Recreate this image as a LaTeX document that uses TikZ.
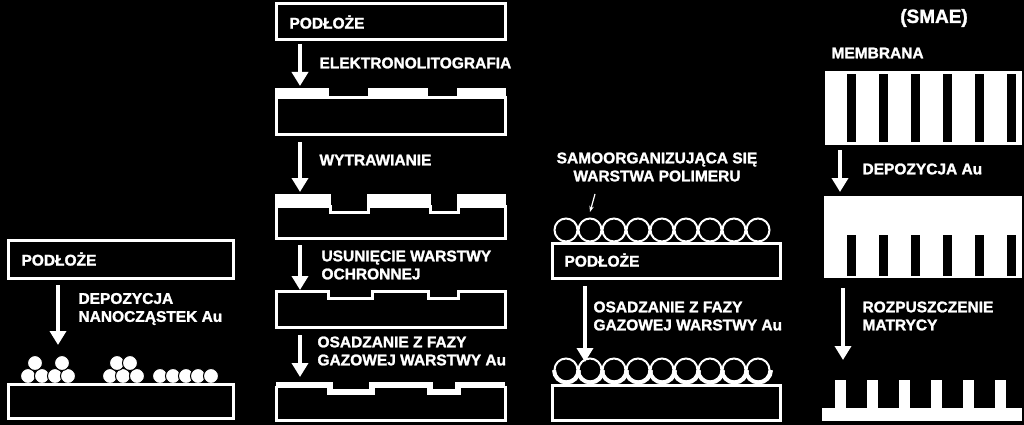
\documentclass[tikz,border=0pt]{standalone}
\usepackage{fontspec}
\setmainfont{Liberation Sans}[BoldFeatures={FakeBold=1.6}]
\usetikzlibrary{arrows.meta, positioning}

\begin{document}
\begin{tikzpicture}[x=1pt, y=-1pt, line width=3pt, white]
    \tikzset{
        lbl/.style = {anchor=west, align=left, inner sep=0pt, font=\fontsize{15.5}{18}\selectfont\bfseries},
        step arrow/.style = {line width=4pt, -{Triangle[width=16pt,length=14pt]}},
        layer/.style = {draw=white, line width=3pt},
        dot/.style = {fill=white, draw=black, line width=1pt}
    }
    \fill[black] (0,0) rectangle (1024,425);
    \useasboundingbox (0,0) rectangle (1024,425);

    % column 1: nanoparticles
    \draw[layer] (8,240) rectangle (233,278);
    \node[lbl] (sub1) at (20,259) {PODŁOŻE};
    \coordinate (a1s) at (58,285); \coordinate (a1e) at (58,345);
    \draw[step arrow] (a1s) -- (a1e);
    \node[lbl] (dep1) at (77,309) {DEPOZYCJA\\NANOCZĄSTEK Au};
    \foreach \x in {28,42,55,68,110,123,137,160,173,186,198,211}
        \draw[dot] (\x,376) circle (7.5);
    \foreach \x in {35,62,117,130}
        \draw[dot] (\x,363) circle (7.5);
    \draw[layer] (8,384) rectangle (233,418);

    % column 2: lithography
    \draw[layer] (276,4) rectangle (505,40);
    \node[lbl] (sub2) at (288,22) {PODŁOŻE};
    \coordinate (a2s) at (300,44); \coordinate (a2e) at (300,86);
    \draw[step arrow] (a2s) -- (a2e);
    \node[lbl] (lito) at (318,63) {ELEKTRONOLITOGRAFIA};
    \draw[layer] (276,98) rectangle (505,134);
    \foreach \a/\b in {275/329,368/428,457/506}
        \fill (\a,88) rectangle (\b,98);
    \coordinate (a3s) at (300,142); \coordinate (a3e) at (300,192);
    \draw[step arrow] (a3s) -- (a3e);
    \node[lbl] (etch) at (318,160) {WYTRAWIANIE};
    \draw[layer] (276,206) -- (330,206) -- (330,212) -- (368,212) -- (368,206)
        -- (430,206) -- (430,212) -- (458,212) -- (458,206) -- (505,206) -- (505,238) -- (276,238) -- cycle;
    \foreach \a/\b in {275/331,367/431,457/506}
        \fill (\a,194) rectangle (\b,206);
    \coordinate (a4s) at (300,245); \coordinate (a4e) at (300,290);
    \draw[step arrow] (a4s) -- (a4e);
    \node[lbl] (strip) at (320,265) {USUNIĘCIE WARSTWY\\OCHRONNEJ};
    \draw[layer] (276,291) -- (328,291) -- (328,298) -- (372,298) -- (372,291) -- (428,291)
        -- (428,298) -- (458,298) -- (458,291) -- (505,291) -- (505,327) -- (276,327) -- cycle;
    \coordinate (a5s) at (300,335); \coordinate (a5e) at (300,377);
    \draw[step arrow] (a5s) -- (a5e);
    \node[lbl] (vap2) at (316,351) {OSADZANIE Z FAZY\\GAZOWEJ WARSTWY Au};
    \draw[layer, line width=6pt] (276,385) -- (330,385) -- (330,392) -- (372,392) -- (372,385)
        -- (430,385) -- (430,392) -- (458,392) -- (458,385) -- (505,385);
    \draw[layer] (276,386) -- (276,420) -- (505,420) -- (505,386);

    % column 3: polymer spheres
    \node[lbl, anchor=north, align=center] (poly) at (657,151) {SAMOORGANIZUJĄCA SIĘ\\WARSTWA POLIMERU};
    \coordinate (a6s) at (595,194); \coordinate (a6e) at (590,212);
    \draw[line width=1.2pt, -{Stealth[length=6pt]}] (a6s) -- (a6e);
    \foreach \k in {0,...,8}
        \draw[line width=2pt] (566+24*\k,230) circle (11.5);
    \draw[layer] (552,243) rectangle (780,278);
    \node[lbl] (sub3) at (563,260) {PODŁOŻE};
    \coordinate (a7s) at (585,286); \coordinate (a7e) at (585,362);
    \draw[step arrow] (a7s) -- (a7e);
    \node[lbl] (vap3) at (592,316) {OSADZANIE Z FAZY\\GAZOWEJ WARSTWY Au};
    \foreach \k in {0,...,8} {
        \draw[line width=2pt] (566+24*\k,370) circle (11.5);
        \draw[line width=4pt] (554+24*\k,370) arc (180:0:12.5);
    }
    \draw[layer] (552,385) rectangle (780,420);

    % column 4: template
    \node[lbl, anchor=center, font=\fontsize{19}{20}\selectfont\bfseries] (smae) at (934,18) {(SMAE)};
    \node[lbl] (memb) at (830,53) {MEMBRANA};
    \fill (825,71) rectangle (1022,145);
    \foreach \k in {0,...,5}
        \fill[black] (847+32*\k,74) rectangle (856+32*\k,142);
    \coordinate (a8s) at (840,150); \coordinate (a8e) at (840,192);
    \draw[step arrow] (a8s) -- (a8e);
    \node[lbl] (dep4) at (861,169) {DEPOZYCJA Au};
    \fill (824,196) rectangle (1022,278);
    \foreach \k in {0,...,5}
        \fill[black] (847+32*\k,235) rectangle (856+32*\k,276);
    \coordinate (a9s) at (843,288); \coordinate (a9e) at (843,360);
    \draw[step arrow] (a9s) -- (a9e);
    \node[lbl] (diss) at (861,316) {ROZPUSZCZENIE\\MATRYCY};
    \fill (822,408) rectangle (1022,421);
    \foreach \k in {0,...,5}
        \fill (835+32*\k,380) rectangle (846+32*\k,409);
\end{tikzpicture}
\end{document}
